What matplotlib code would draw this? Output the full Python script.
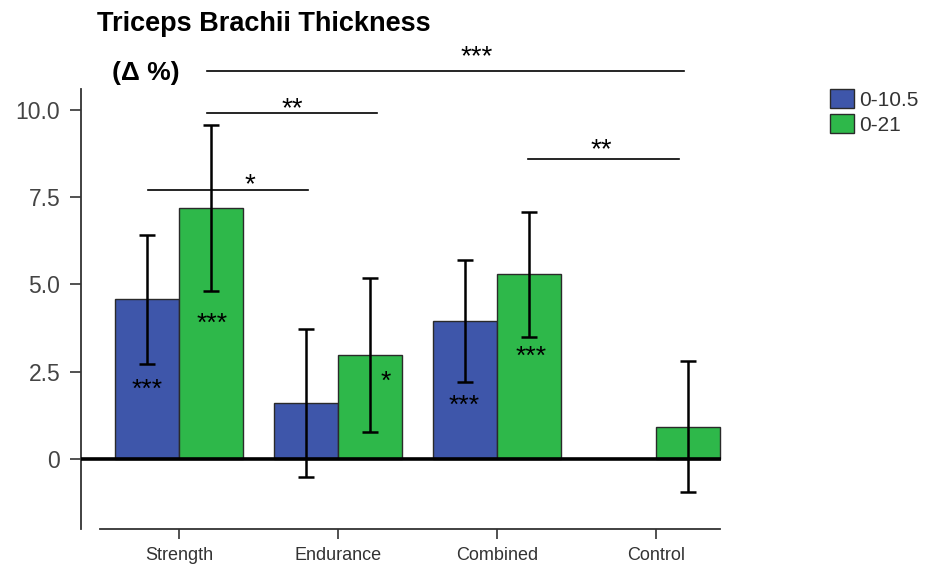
import matplotlib.pyplot as plt
import numpy as np

plt.rcParams['font.family'] = ['Liberation Sans', 'DejaVu Sans']

# data
groups = ['Strength', 'Endurance', 'Combined', 'Control']
mean_105 = [4.57, 1.61, 3.96, np.nan]
sd_105 = [1.85, 2.12, 1.75, np.nan]
mean_21 = [7.19, 2.98, 5.29, 0.93]
sd_21 = [2.37, 2.20, 1.80, 1.87]
series_labels = ['0-10.5', '0-21']

# significance brackets between groups
sig_x0 = [0.176, 0.176, -0.197, 2.193]
sig_x1 = [3.176, 1.245, 0.811, 3.145]
sig_y = [11.12, 9.91, 7.71, 8.59]
sig_txt_x = [1.874, 0.711, 0.447, 2.658]
sig_txt_y = [11.72, 10.23, 8.05, 9.06]
sig_txt = ['***', '**', '*', '**']

# within-group stars inside bars
star_x = [-0.201, 0.206, 1.302, 1.792, 2.214]
star_y = [2.18, 4.08, 2.41, 1.71, 3.12]
star_txt = ['***', '***', '*', '***', '***']

blue = '#3E56AA'
green = '#2EB84A'
dark = '#333333'

fig = plt.figure(figsize=(9.26, 5.67), dpi=100)
ax = fig.add_axes([0.0875, 0.0674, 0.6981, 0.8617])

x = np.arange(len(groups))
w = 0.405
ax.bar(x - w / 2, mean_105, w, color=blue, edgecolor='#2a2a2a', linewidth=1.0, label=series_labels[0])
ax.bar(x + w / 2, mean_21, w, color=green, edgecolor='#2a2a2a', linewidth=1.0, label=series_labels[1])
ax.errorbar(x - w / 2, mean_105, yerr=sd_105, fmt='none', ecolor='black', elinewidth=1.8, capsize=6, capthick=1.8)
ax.errorbar(x + w / 2, mean_21, yerr=sd_21, fmt='none', ecolor='black', elinewidth=1.8, capsize=6, capthick=1.8)

# zero reference line
ax.hlines(0, -0.616, 3.41, color='black', linewidth=2.6, zorder=4)

for i in range(len(sig_txt)):
    ax.plot([sig_x0[i], sig_x1[i]], [sig_y[i], sig_y[i]], color='black', linewidth=1.2, clip_on=False)
    ax.annotate(sig_txt[i], (sig_txt_x[i], sig_txt_y[i]), xytext=(0, -5.5), textcoords='offset points',
                ha='center', va='center', fontsize=20, annotation_clip=False)

for i in range(len(star_txt)):
    ax.annotate(star_txt[i], (star_x[i], star_y[i]), xytext=(0, -5), textcoords='offset points',
                ha='center', va='center', fontsize=19, zorder=5)

ax.set_xlim(-0.616, 3.45)
ax.set_ylim(-2, 12)
ax.set_yticks([0, 2.5, 5, 7.5, 10])
ax.set_yticklabels(['0', '2.5', '5.0', '7.5', '10.0'])
ax.set_xticks(x)
ax.set_xticklabels(groups)

for s in ['top', 'right']:
    ax.spines[s].set_visible(False)
ax.spines['left'].set_bounds(-2, 10.6)
ax.spines['bottom'].set_bounds(-0.497, 3.40)
ax.spines['left'].set_color(dark)
ax.spines['bottom'].set_color(dark)
ax.spines['left'].set_linewidth(1.3)
ax.spines['bottom'].set_linewidth(1.3)
ax.tick_params(axis='y', length=8, width=1.2, color=dark, labelsize=16.5, labelcolor='#444444', pad=7)
ax.tick_params(axis='x', length=7, width=1.2, color=dark, labelsize=13, labelcolor='#333333', pad=6)

fig.text(97 / 926, 1 - 31 / 567, 'Triceps Brachii Thickness', fontsize=19.5, fontweight='bold', va='baseline')
fig.text(112 / 926, 1 - 80 / 567, '(Δ %)', fontsize=19, fontweight='bold', va='baseline')

fig.legend(loc='upper left', bbox_to_anchor=(830 / 926, 1 - 89 / 567), frameon=False, fontsize=15,
           borderpad=0, borderaxespad=0, handlelength=1.15, handleheight=1.05, handletextpad=0.25,
           labelspacing=0.2, labelcolor='#333333')

fig.savefig('out.png', dpi=100)
